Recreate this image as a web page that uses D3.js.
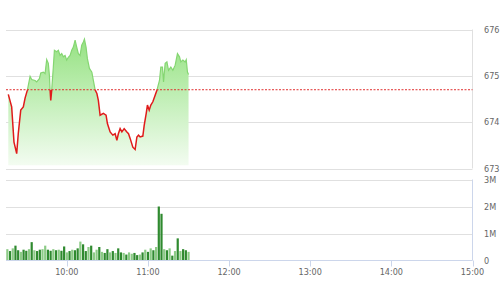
<!DOCTYPE html>
<html><head><meta charset="utf-8">
<script src="https://cdn.jsdelivr.net/npm/d3@7"></script>
<style>
html,body{margin:0;padding:0;background:#fff;}
svg{display:block;}
text{font-family:'Liberation Sans Narrow','DejaVu Sans Condensed','Roboto',sans-serif;font-size:9px;fill:#666;}
</style></head><body>
<svg id="c" width="501" height="300"></svg>
<script>
// ---- data ----
const priceTimes = ["09:16:42","09:19:12","09:20:54","09:22:54","09:24:06","09:25:54","09:27:48","09:29:06","09:30:48","09:32:48",
"09:34:00","09:36:30","09:37:42","09:39:42","09:40:42","09:42:36","09:43:54","09:45:06","09:46:18","09:47:06",
"09:47:36","09:48:06","09:48:48","09:50:00","09:50:48","09:52:30","09:53:42","09:55:00","09:56:12","09:57:24",
"09:58:42","09:59:54","10:01:06","10:02:24","10:03:36","10:04:48","10:06:06","10:07:18","10:08:30","10:09:48",
"10:11:00","10:12:12","10:13:00","10:14:12","10:15:12","10:16:42","10:18:30","10:19:36","10:20:54","10:22:12",
"10:23:18","10:24:36","10:27:00","10:29:00","10:30:00","10:32:00","10:34:00","10:35:42","10:37:00","10:38:06",
"10:39:24","10:40:42","10:42:24","10:44:24","10:45:36","10:46:48","10:48:48","10:50:30","10:51:48","10:53:00",
"10:54:12","10:56:12","10:57:12","10:58:42","10:59:36","11:00:54","11:02:06","11:03:36","11:05:18","11:06:36",
"11:08:30","11:09:30","11:10:42","11:11:30","11:12:42","11:14:00","11:15:12","11:16:54","11:18:24","11:20:06",
"11:21:48","11:23:18","11:24:18","11:25:48","11:27:30","11:28:18","11:29:12","11:30:00"];
const priceValues = [674.60,674.33,673.57,673.32,673.76,674.26,674.33,674.52,674.69,674.99,
674.92,674.90,674.87,674.94,675.06,675.08,675.05,675.35,675.27,675.01,
674.70,674.47,674.69,675.19,675.55,675.52,675.55,675.44,675.48,675.41,
675.44,675.34,675.40,675.44,675.55,675.62,675.77,675.62,675.48,675.44,
675.66,675.73,675.79,675.62,675.37,675.16,675.08,674.90,674.70,674.62,
674.47,674.15,674.19,674.15,673.97,673.79,673.72,673.75,673.61,673.75,
673.86,673.79,673.86,673.79,673.75,673.65,673.46,673.41,673.68,673.72,
673.68,673.70,673.93,674.19,674.37,674.26,674.37,674.44,674.58,674.69,
674.90,675.19,675.19,674.87,675.27,675.30,675.12,675.19,675.12,675.23,
675.48,675.41,675.30,675.34,675.30,675.35,675.08,675.03];
const refValue = 674.70;

const volTimes = ["09:16","09:18","09:20","09:22","09:24","09:26","09:28","09:30","09:32","09:34",
"09:36","09:38","09:40","09:42","09:44","09:46","09:48","09:50","09:52","09:54",
"09:56","09:58","10:00","10:02","10:04","10:06","10:08","10:10","10:12","10:14",
"10:16","10:18","10:20","10:22","10:24","10:26","10:28","10:30","10:32","10:34",
"10:36","10:38","10:40","10:42","10:44","10:46","10:48","10:50","10:52","10:54",
"10:56","10:58","11:00","11:02","11:04","11:06","11:08","11:10","11:12","11:14",
"11:16","11:18","11:20","11:22","11:24","11:26","11:28","11:30"];
const volValues = [0.42,0.35,0.45,0.55,0.38,0.32,0.40,0.36,0.42,0.68,
0.38,0.35,0.40,0.42,0.55,0.40,0.36,0.42,0.38,0.40,
0.36,0.52,0.30,0.35,0.40,0.38,0.45,0.70,0.60,0.35,
0.50,0.55,0.30,0.40,0.50,0.32,0.28,0.42,0.30,0.35,
0.28,0.45,0.30,0.28,0.22,0.30,0.25,0.28,0.20,0.22,
0.30,0.40,0.32,0.45,0.38,0.50,2.00,1.73,0.42,0.38,
0.45,0.18,0.35,0.82,0.35,0.42,0.38,0.32];
const volTone = ["L","D","L","D","D","L","D","D","L","D",
"L","D","D","L","L","D","D","L","D","L",
"D","D","L","D","L","D","D","L","D","D",
"L","D","L","L","D","L","D","D","L","D",
"L","D","D","L","D","L","L","D","D","L",
"D","L","D","L","D","L","D","D","L","D",
"L","D","L","D","L","D","D","L"];

const priceTicks = [673,674,675,676];
const volTicks = [0,1,2,3];
const volTickLabels = ["0","1M","2M","3M"];
const timeTicks = ["10:00","11:00","12:00","13:00","14:00","15:00"];
const sessionStart = "09:15", sessionEnd = "15:00";

// ---- chart ----
const svg = d3.select("#c");
const pT = d3.timeParse("%H:%M:%S"), pM = d3.timeParse("%H:%M");
const x = d3.scaleTime().domain([pM(sessionStart), pM(sessionEnd)]).range([6, 472.5]);
const y = d3.scaleLinear().domain([673, 676]).range([168.5, 29.5]);
const yv = d3.scaleLinear().domain([0, 3]).range([260.5, 179.5]);

const prices = priceTimes.map((t,i)=>({t:pT(t), v:priceValues[i]}));
const vols = volTimes.map((t,i)=>({t:pM(t), v:volValues[i], tone:volTone[i]}));

const defs = svg.append("defs");
const grad = defs.append("linearGradient").attr("id","g").attr("gradientUnits","userSpaceOnUse")
  .attr("x1",0).attr("x2",0).attr("y1",y(676)).attr("y2",y(673.07));
grad.append("stop").attr("offset",0).attr("stop-color","#8fe07a");
grad.append("stop").attr("offset",0.55).attr("stop-color","#c6f0bc");
grad.append("stop").attr("offset",1).attr("stop-color","#f3fcf1");
defs.append("clipPath").attr("id","above").append("rect")
  .attr("x",0).attr("y",0).attr("width",501).attr("height",y(refValue));
defs.append("clipPath").attr("id","below").append("rect")
  .attr("x",0).attr("y",y(refValue)).attr("width",501).attr("height",300);

// grid top panel
svg.append("g").selectAll("line").data(priceTicks).join("line")
  .attr("x1",6).attr("x2",472.5).attr("y1",d=>Math.round(y(d))+0.5).attr("y2",d=>Math.round(y(d))+0.5)
  .attr("stroke","#e0e0e0").attr("stroke-width",1);
svg.append("line").attr("x1",472.5).attr("x2",472.5).attr("y1",y(676)).attr("y2",y(673))
  .attr("stroke","#e0e0e0");
// grid volume panel
svg.append("g").selectAll("line").data(volTicks.filter(d=>d>0)).join("line")
  .attr("x1",6).attr("x2",472.5).attr("y1",d=>Math.round(yv(d))+0.5).attr("y2",d=>Math.round(yv(d))+0.5)
  .attr("stroke","#e0e0e0");
svg.append("line").attr("x1",472.5).attr("x2",472.5).attr("y1",yv(3)).attr("y2",yv(0))
  .attr("stroke","#ccd6eb");

// area
const area = d3.area().x(d=>x(d.t)).y0(y(673.07)).y1(d=>y(d.v));
svg.append("path").datum(prices).attr("d",area).attr("fill","url(#g)");

// lines
const line = d3.line().x(d=>x(d.t)).y(d=>y(d.v));
svg.append("path").datum(prices).attr("d",line).attr("fill","none")
  .attr("stroke","#85d672").attr("stroke-width",1.2).attr("clip-path","url(#above)");
svg.append("path").datum(prices).attr("d",line).attr("fill","none")
  .attr("stroke","#e01b1b").attr("stroke-width",1.5).attr("clip-path","url(#below)");

// reference line
svg.append("line").attr("x1",6).attr("x2",472.5).attr("y1",y(refValue)).attr("y2",y(refValue))
  .attr("stroke","#e03030").attr("stroke-width",1).attr("stroke-dasharray","2,1.5");

// volume bars
svg.append("g").selectAll("rect").data(vols).join("rect")
  .attr("x",d=>x(d.t)-1.1).attr("width",2.2)
  .attr("y",d=>yv(d.v)).attr("height",d=>yv(0)-yv(d.v))
  .attr("fill",d=>d.tone==="D"?"#2f8a2f":"#8ccb86");

// x axis
svg.append("line").attr("x1",6).attr("x2",472.5).attr("y1",yv(0)).attr("y2",yv(0)).attr("stroke","#ccd6eb");
const xt = svg.append("g");
xt.selectAll("line").data(timeTicks).join("line")
  .attr("x1",d=>Math.round(x(pM(d)))+0.5).attr("x2",d=>Math.round(x(pM(d)))+0.5)
  .attr("y1",yv(0)).attr("y2",yv(0)+6).attr("stroke","#ccd6eb");
xt.selectAll("text").data(timeTicks).join("text")
  .attr("x",d=>x(pM(d))).attr("y",275).attr("text-anchor","middle").text(d=>d);

// right labels
svg.append("g").selectAll("text").data(priceTicks).join("text")
  .attr("x",484).attr("y",d=>y(d)+3).text(d=>d);
svg.append("g").selectAll("text").data(volTicks).join("text")
  .attr("x",484).attr("y",d=>yv(d)+3).text((d,i)=>volTickLabels[i]);
</script>
</body></html>
